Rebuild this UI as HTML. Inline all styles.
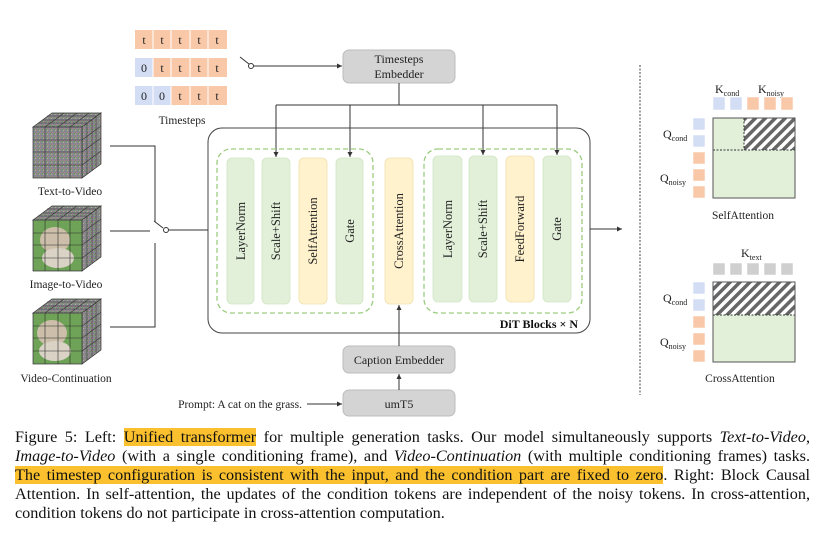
<!DOCTYPE html>
<html><head><meta charset="utf-8"><style>
body{margin:0;background:#fff;width:828px;height:537px;overflow:hidden;font-family:"Liberation Serif",serif;}
.cap{position:absolute;left:15px;width:795px;font-size:16.2px;line-height:19px;color:#111;text-align:justify;text-align-last:justify;white-space:nowrap;}
.hl{background:#fbc02d;}
</style></head><body>
<svg width="828" height="537" style="position:absolute;left:0;top:0" font-family="Liberation Serif, serif">
<defs>
<marker id="ar" markerWidth="6" markerHeight="6" refX="5" refY="3" orient="auto" markerUnits="userSpaceOnUse"><path d="M0,0.5 L5,3 L0,5.5z" fill="#333"/></marker>
<pattern id="hatch" width="7" height="7" patternUnits="userSpaceOnUse" patternTransform="rotate(45)"><rect width="7" height="7" fill="#fff"/><rect width="3.5" height="7" fill="#666"/></pattern>
<pattern id="noise" width="4" height="4" patternUnits="userSpaceOnUse"><rect width="4" height="4" fill="#8a8a86"/><rect width="1" height="1" fill="#b07a9a"/><rect x="2" y="1" width="1" height="1" fill="#6a9a6a"/><rect x="1" y="3" width="1" height="1" fill="#7a7ab0"/><rect x="3" y="2" width="1" height="1" fill="#aaa"/></pattern>
</defs>
<g font-size="12" text-anchor="middle" fill="#222">
<rect x="135" y="30" width="92" height="19" fill="#f8c8a8"/>
<rect x="135" y="58" width="92" height="19" fill="#f8c8a8"/><rect x="135" y="58" width="18" height="19" fill="#d3def5"/>
<rect x="135" y="86" width="92" height="19" fill="#f8c8a8"/><rect x="135" y="86" width="36" height="19" fill="#d3def5"/>
<g stroke="#fff" stroke-width="1"><line x1="153" y1="30" x2="153" y2="105"/><line x1="171" y1="30" x2="171" y2="105"/><line x1="190" y1="30" x2="190" y2="105"/><line x1="208" y1="30" x2="208" y2="105"/></g>
<text x="144" y="44">t</text><text x="162" y="44">t</text><text x="180" y="44">t</text><text x="199" y="44">t</text><text x="217" y="44">t</text>
<text x="144" y="72">0</text><text x="162" y="72">t</text><text x="180" y="72">t</text><text x="199" y="72">t</text><text x="217" y="72">t</text>
<text x="144" y="100">0</text><text x="162" y="100">0</text><text x="180" y="100">t</text><text x="199" y="100">t</text><text x="217" y="100">t</text>
<text x="182" y="124" font-size="11.5">Timesteps</text>
</g>
<line x1="240" y1="57" x2="249" y2="64" stroke="#333"/><circle cx="251" cy="66" r="2.5" fill="#fff" stroke="#333"/>
<line x1="254" y1="66" x2="342" y2="66" stroke="#333" marker-end="url(#ar)"/>
<g fill="#d4d4d4" stroke="#bdbdbd"><rect x="343" y="50" width="112" height="33" rx="6"/><rect x="343" y="346" width="112" height="27" rx="6"/><rect x="343" y="390" width="112" height="26" rx="6"/></g>
<g font-size="12" text-anchor="middle" fill="#222"><text x="399" y="63">Timesteps</text><text x="399" y="78">Embedder</text><text x="399" y="364">Caption Embedder</text><text x="399" y="408">umT5</text></g>
<text x="302" y="408" font-size="11.5" text-anchor="end" fill="#222">Prompt: A cat on the grass.</text>
<line x1="307" y1="404" x2="342" y2="404" stroke="#333" marker-end="url(#ar)"/>
<line x1="399" y1="390" x2="399" y2="374" stroke="#333" marker-end="url(#ar)"/>
<line x1="399" y1="346" x2="399" y2="305" stroke="#333" marker-end="url(#ar)"/>
<g stroke="#333" fill="none"><polyline points="399,83 399,105"/><line x1="276" y1="105" x2="557" y2="105"/>
<line x1="276" y1="105" x2="276" y2="157" marker-end="url(#ar)"/><line x1="350" y1="105" x2="350" y2="157" marker-end="url(#ar)"/><line x1="483" y1="105" x2="483" y2="155" marker-end="url(#ar)"/><line x1="557" y1="105" x2="557" y2="155" marker-end="url(#ar)"/></g>
<rect x="208" y="128" width="382" height="205" rx="14" fill="none" stroke="#444"/>
<g fill="none" stroke="#9ccc80" stroke-dasharray="5,3" stroke-width="1.3"><rect x="217" y="149" width="156" height="164" rx="14"/><rect x="424" y="149" width="158" height="164" rx="14"/></g>
<g stroke-width="0.8">
<rect x="227" y="158" width="27" height="146" rx="5" fill="#e2f0d9" stroke="#d0e6c4"/>
<rect x="262" y="158" width="28" height="146" rx="5" fill="#e2f0d9" stroke="#d0e6c4"/>
<rect x="299" y="158" width="28" height="146" rx="5" fill="#fff2cc" stroke="#f0e0b0"/>
<rect x="336" y="158" width="27" height="146" rx="5" fill="#e2f0d9" stroke="#d0e6c4"/>
<rect x="385" y="158" width="28" height="146" rx="5" fill="#fff2cc" stroke="#f0e0b0"/>
<rect x="433" y="156" width="29" height="146" rx="5" fill="#e2f0d9" stroke="#d0e6c4"/>
<rect x="469" y="156" width="28" height="146" rx="5" fill="#e2f0d9" stroke="#d0e6c4"/>
<rect x="506" y="156" width="28" height="146" rx="5" fill="#fff2cc" stroke="#f0e0b0"/>
<rect x="543" y="156" width="28" height="146" rx="5" fill="#e2f0d9" stroke="#d0e6c4"/>
</g>
<g font-size="12.5" text-anchor="middle" fill="#222">
<text transform="translate(245,231) rotate(-90)">LayerNorm</text>
<text transform="translate(280,231) rotate(-90)">Scale+Shift</text>
<text transform="translate(317,231) rotate(-90)">SelfAttention</text>
<text transform="translate(354,231) rotate(-90)">Gate</text>
<text transform="translate(403,231) rotate(-90)">CrossAttention</text>
<text transform="translate(452,229) rotate(-90)">LayerNorm</text>
<text transform="translate(487,229) rotate(-90)">Scale+Shift</text>
<text transform="translate(524,229) rotate(-90)">FeedForward</text>
<text transform="translate(561,229) rotate(-90)">Gate</text>
</g>
<text x="578" y="328" font-size="12" font-weight="bold" text-anchor="end" fill="#111">DiT Blocks × N</text>
<line x1="590" y1="229" x2="622" y2="229" stroke="#333" marker-end="url(#ar)"/>
<line x1="640" y1="65" x2="640" y2="395" stroke="#444" stroke-dasharray="2,1.5"/>
<g id="cube">
<polygon points="33,127 52,113 101,113 82,127" fill="url(#noise)" stroke="#333" stroke-width="0.7"/>
<polygon points="82,127 101,113 101,164 82,178" fill="url(#noise)" stroke="#333" stroke-width="0.7"/>
<rect x="33" y="127" width="49" height="51" fill="url(#noise)" stroke="#333" stroke-width="0.7"/>
<g stroke="#333" stroke-width="0.6" fill="none">
<line x1="45" y1="127" x2="45" y2="178"/><line x1="58" y1="127" x2="58" y2="178"/><line x1="70" y1="127" x2="70" y2="178"/>
<line x1="33" y1="140" x2="82" y2="140"/><line x1="33" y1="152" x2="82" y2="152"/><line x1="33" y1="165" x2="82" y2="165"/>
<line x1="38" y1="123" x2="87" y2="123"/><line x1="43" y1="120" x2="92" y2="120"/><line x1="47" y1="116" x2="96" y2="116"/>
<line x1="45" y1="127" x2="64" y2="113"/><line x1="58" y1="127" x2="77" y2="113"/><line x1="70" y1="127" x2="89" y2="113"/>
<line x1="87" y1="123" x2="87" y2="174"/><line x1="92" y1="120" x2="92" y2="171"/><line x1="96" y1="116" x2="96" y2="167"/>
<line x1="82" y1="140" x2="101" y2="126"/><line x1="82" y1="152" x2="101" y2="138"/><line x1="82" y1="165" x2="101" y2="151"/>
</g></g>
<use href="#cube" y="93"/><use href="#cube" y="186"/>
<g opacity="0.85">
<rect x="33.5" y="220.5" width="48" height="50" fill="#6aa84f"/><ellipse cx="55" cy="240" rx="15" ry="13" fill="#d8c8b0"/><ellipse cx="58" cy="258" rx="16" ry="10" fill="#e8e0d0"/>
<rect x="33.5" y="313.5" width="48" height="50" fill="#6aa84f"/><ellipse cx="52" cy="333" rx="15" ry="13" fill="#d8c8b0"/><ellipse cx="55" cy="351" rx="16" ry="10" fill="#e8e0d0"/>
</g>
<g stroke="#333" stroke-width="0.6"><line x1="33" y1="233" x2="82" y2="233"/><line x1="33" y1="245" x2="82" y2="245"/><line x1="33" y1="258" x2="82" y2="258"/><line x1="45" y1="220" x2="45" y2="271"/><line x1="58" y1="220" x2="58" y2="271"/><line x1="70" y1="220" x2="70" y2="271"/>
<line x1="33" y1="326" x2="82" y2="326"/><line x1="33" y1="338" x2="82" y2="338"/><line x1="33" y1="351" x2="82" y2="351"/><line x1="45" y1="313" x2="45" y2="364"/><line x1="58" y1="313" x2="58" y2="364"/><line x1="70" y1="313" x2="70" y2="364"/></g>
<g font-size="11.5" text-anchor="middle" fill="#222"><text x="70" y="195">Text-to-Video</text><text x="66" y="288">Image-to-Video</text><text x="66" y="382">Video-Continuation</text></g>
<g stroke="#333" fill="none"><polyline points="110,146 155,146 155,222"/><line x1="110" y1="231" x2="150" y2="231"/><polyline points="110,327 155,327 155,243"/>
<line x1="154" y1="221" x2="163" y2="228"/><line x1="169" y1="230" x2="208" y2="230"/></g>
<circle cx="166" cy="230" r="2.5" fill="#fff" stroke="#333"/>
<g font-size="12" fill="#222">
<text x="715" y="93">K<tspan font-size="8" dy="3">cond</tspan></text>
<text x="758" y="93">K<tspan font-size="8" dy="3">noisy</tspan></text>
<text x="663" y="138">Q<tspan font-size="8" dy="3">cond</tspan></text>
<text x="660" y="182">Q<tspan font-size="8" dy="3">noisy</tspan></text>
<text x="743" y="219" text-anchor="middle" font-size="11.5">SelfAttention</text>
<text x="741" y="257">K<tspan font-size="8" dy="3">text</tspan></text>
<text x="663" y="302">Q<tspan font-size="8" dy="3">cond</tspan></text>
<text x="660" y="346">Q<tspan font-size="8" dy="3">noisy</tspan></text>
<text x="740" y="382" text-anchor="middle" font-size="11.5">CrossAttention</text>
</g>
<g stroke="#fff" stroke-width="0.5">
<rect x="713" y="97" width="12" height="13" fill="#d3def5"/><rect x="730" y="97" width="12" height="13" fill="#d3def5"/><rect x="747" y="97" width="12" height="13" fill="#f8c8a8"/><rect x="764" y="97" width="12" height="13" fill="#f8c8a8"/><rect x="781" y="97" width="12" height="13" fill="#f8c8a8"/>
<rect x="693" y="118" width="12" height="12" fill="#d3def5"/><rect x="693" y="135" width="12" height="12" fill="#d3def5"/><rect x="693" y="152" width="12" height="12" fill="#f8c8a8"/><rect x="693" y="169" width="12" height="12" fill="#f8c8a8"/><rect x="693" y="186" width="12" height="12" fill="#f8c8a8"/>
<rect x="713" y="263" width="12" height="12" fill="#cfcfcf"/><rect x="730" y="263" width="12" height="12" fill="#cfcfcf"/><rect x="747" y="263" width="12" height="12" fill="#cfcfcf"/><rect x="764" y="263" width="12" height="12" fill="#cfcfcf"/><rect x="781" y="263" width="12" height="12" fill="#cfcfcf"/>
<rect x="693" y="282" width="12" height="12" fill="#d3def5"/><rect x="693" y="299" width="12" height="12" fill="#d3def5"/><rect x="693" y="316" width="12" height="12" fill="#f8c8a8"/><rect x="693" y="333" width="12" height="12" fill="#f8c8a8"/><rect x="693" y="350" width="12" height="12" fill="#f8c8a8"/>
</g>
<rect x="713" y="118" width="82" height="80" fill="#e2f0d9"/><rect x="744" y="118" width="51" height="32" fill="url(#hatch)"/>
<line x1="713" y1="150" x2="795" y2="150" stroke="#333" stroke-dasharray="2,1.5"/><line x1="744" y1="118" x2="744" y2="150" stroke="#333" stroke-dasharray="2,1.5"/>
<rect x="713" y="118" width="82" height="80" fill="none" stroke="#555"/>
<rect x="713" y="282" width="82" height="80" fill="#e2f0d9"/><rect x="713" y="282" width="82" height="33" fill="url(#hatch)"/>
<line x1="713" y1="315" x2="795" y2="315" stroke="#333" stroke-dasharray="2,1.5"/>
<rect x="713" y="282" width="82" height="80" fill="none" stroke="#555"/>
</svg>
<div class="cap" style="top:428px">Figure 5: Left: <span class="hl">Unified transformer</span> for multiple generation tasks. Our model simultaneously supports <i>Text-to-Video</i>,</div>
<div class="cap" style="top:447px"><i>Image-to-Video</i> (with a single conditioning frame), and <i>Video-Continuation</i> (with multiple conditioning frames) tasks.</div>
<div class="cap" style="top:466px"><span class="hl">The timestep configuration is consistent with the input, and the condition part are fixed to zero</span>. Right: Block Causal</div>
<div class="cap" style="top:485px">Attention. In self-attention, the updates of the condition tokens are independent of the noisy tokens. In cross-attention,</div>
<div class="cap" style="top:504px;text-align-last:left">condition tokens do not participate in cross-attention computation.</div>
</body></html>
